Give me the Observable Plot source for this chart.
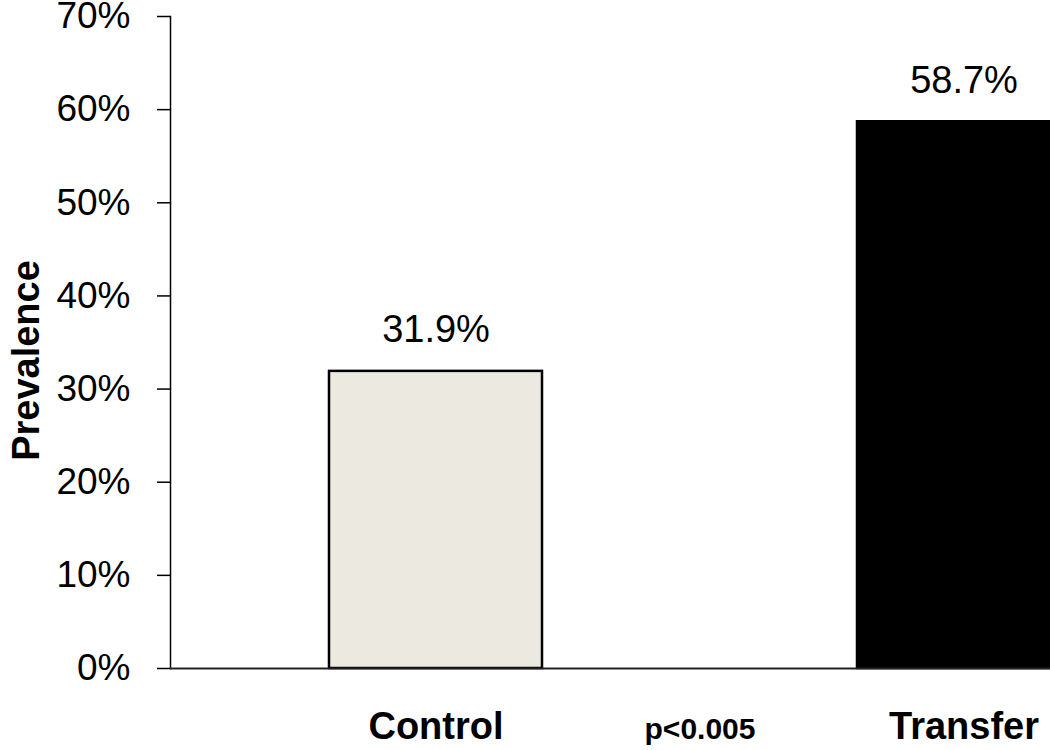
<!DOCTYPE html>
<html>
<head>
<meta charset="utf-8">
<script src="https://cdn.jsdelivr.net/npm/d3@7"></script>
<script src="https://cdn.jsdelivr.net/npm/@observablehq/plot@0.6"></script>
<style>
  html, body { margin: 0; padding: 0; background: #fff; overflow: hidden; }
  #chart svg { font-family: "Liberation Sans", Arial, sans-serif; }
</style>
</head>
<body>
<div id="chart"></div>
<script>
// Data
const groups = ["Control", "Transfer"];
const prevalence = [31.9, 58.7];
const groupColors = ["#ECE9E0", "#000000"];
const categories = ["Control", "p<0.005", "Transfer"];
const yTicks = [0, 10, 20, 30, 40, 50, 60, 70];
const yLabel = "Prevalence";

const bars = groups.map((g, i) => ({group: g, value: prevalence[i], color: groupColors[i]}));
const catLabels = categories.map(c => ({label: c, size: c === "p<0.005" ? 30 : 38}));

const chart = Plot.plot({
  width: 1050,
  height: 750,
  marginLeft: 170,
  marginRight: 0,
  marginTop: 16,
  marginBottom: 82,
  style: {fontFamily: "'Liberation Sans', Arial, sans-serif", background: "#fff"},
  x: {type: "band", domain: categories, range: [303, 1096], paddingInner: 0.194, paddingOuter: 0.097, axis: null},
  y: {domain: [0, 70], axis: null},
  marks: [
    Plot.axisY({ticks: yTicks, tickFormat: d => d + "%", tickSize: 13, tickPadding: 27, fontSize: 37, stroke: "#000", strokeWidth: 1.5, fill: "#000", label: null}),
    Plot.barY(bars, {x: "group", y: "value", fill: "color", stroke: "#000", strokeWidth: 2.5}),
    Plot.frame({anchor: "left", stroke: "#000", strokeWidth: 1.5}),
    Plot.ruleY([0], {stroke: "#222", strokeWidth: 2}),
    Plot.text(bars, {x: "group", y: "value", text: d => d.value.toFixed(1) + "%", dy: -29, lineAnchor: "bottom", fontSize: 38, fill: "#000"}),
    Plot.text(catLabels, {x: "label", text: "label", frameAnchor: "bottom", dy: 70, lineAnchor: "bottom", fontSize: "size", fontWeight: "bold", fill: "#000"}),
    Plot.text([yLabel], {frameAnchor: "left", textAnchor: "middle", dx: -144, dy: 18, rotate: -90, fontSize: 38, fontWeight: "bold", fill: "#000"})
  ]
});
document.getElementById("chart").appendChild(chart);
</script>
</body>
</html>
